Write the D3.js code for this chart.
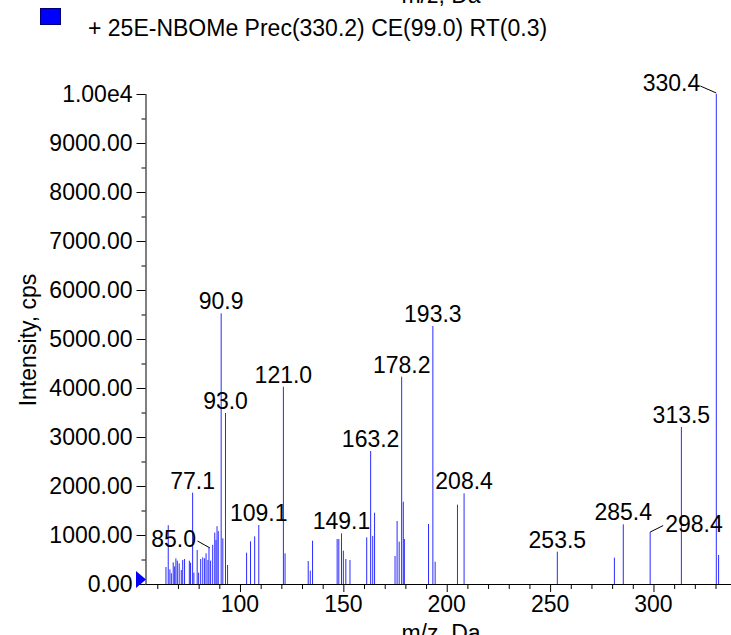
<!DOCTYPE html>
<html>
<head>
<meta charset="utf-8">
<script src="https://cdn.jsdelivr.net/npm/d3@7"></script>
<style>
  html, body { margin: 0; padding: 0; background: #fff; }
  svg { display: block; }
  text { font-family: "Liberation Sans", Arial, sans-serif; fill: #000; }
</style>
</head>
<body>
<svg id="chart" width="731" height="635"></svg>
<script>
// ---- data ----
const legendLabel = "+ 25E-NBOMe Prec(330.2) CE(99.0) RT(0.3)";
const xTitle = "m/z, Da";
const yTitle = "Intensity, cps";

const mz = [64.2, 65.3, 66.1, 66.8, 67.7, 68.4, 69.0, 69.7, 70.6, 71.6,
            72.3, 73.2, 75.5, 76.1, 77.1, 77.7, 79.3, 80.0, 81.0, 82.0,
            82.9, 83.6, 84.5, 85.0, 85.8, 86.8, 87.8, 88.4, 88.9, 89.5,
            90.9, 91.7, 93.0, 94.0, 103.2, 105.1, 107.1, 109.1, 121.0, 121.8,
            133.0, 134.0, 135.1, 147.0, 147.8, 149.1, 150.0, 151.2, 153.2, 161.3,
            163.2, 164.2, 165.1, 175.0, 176.0, 177.0, 178.2, 179.0, 179.5, 191.2,
            193.3, 194.4, 205.2, 208.4, 253.5, 281.1, 285.4, 298.4, 313.5, 330.4,
            331.5];
const intensity = [347, 1200, 299, 220, 442, 360, 524, 476, 420, 286,
                   490, 510, 476, 435, 1864, 231, 694, 231, 510, 544,
                   524, 626, 490, 735, 476, 800, 1050, 900, 1180, 1080,
                   5524, 932, 3490, 388, 639, 871, 973, 1204, 4027, 626,
                   469, 272, 884, 918, 918, 1034, 680, 510, 490, 952,
                   2714, 980, 1455, 571, 1286, 864, 4231, 1680, 918, 1224,
                   5265, 455, 1619, 1850, 660, 537, 1218, 1060, 3204, 10000,
                   592];

const labeledPeaks = [330.4, 90.9, 193.3, 178.2, 121.0, 93.0, 313.5, 163.2,
                      77.1, 208.4, 109.1, 285.4, 149.1, 298.4, 85.0, 253.5];

const xTickValues = [100, 150, 200, 250, 300];
const yTickValues = [0, 1000, 2000, 3000, 4000, 5000, 6000, 7000, 8000, 9000, 10000];
const yTickLabels = ["0.00", "1000.00", "2000.00", "3000.00", "4000.00", "5000.00",
                     "6000.00", "7000.00", "8000.00", "9000.00", "1.00e4"];

// ---- layout ----
const svg = d3.select("#chart");
const FS = 23;
const x = d3.scaleLinear().domain([54.3, 337.5]).range([145.5, 731]);
const y = d3.scaleLinear().domain([0, 10000]).range([584, 94]);

const peaks = mz.map((m, i) => ({ mz: m, v: intensity[i] }));

// bars
svg.append("g").selectAll("line").data(peaks).join("line")
  .attr("x1", d => x(d.mz)).attr("x2", d => x(d.mz))
  .attr("y1", y(0)).attr("y2", d => y(d.v))
  .attr("stroke", "#2b2bff").attr("stroke-width", 1);

// x axis
const xAxisG = svg.append("g").attr("transform", `translate(0,${y(0)})`);
xAxisG.call(d3.axisBottom(x).tickValues(d3.range(60, 337, 10)).tickSize(5).tickFormat(""))
  .call(g => g.select(".domain").remove());
xAxisG.selectAll(".tick line").filter(d => xTickValues.includes(d)).attr("y2", 8);
xAxisG.selectAll(".tick line").attr("stroke", "#000");
xAxisG.append("line").attr("x1", x.range()[0]).attr("x2", 731).attr("y1", 0.5).attr("y2", 0.5)
  .attr("stroke", "#000").attr("stroke-width", 1);
xAxisG.selectAll(".lbl").data(xTickValues).join("text").attr("class", "lbl")
  .attr("x", d => x(d)).attr("y", 28).attr("text-anchor", "middle")
  .style("font-size", FS + "px").text(d => d);

// y axis
const yAxisG = svg.append("g").attr("transform", `translate(${x.range()[0]},0)`);
yAxisG.call(d3.axisLeft(y).tickValues(d3.range(0, 10001, 500)).tickSize(4).tickFormat(""))
  .call(g => g.select(".domain").remove());
yAxisG.selectAll(".tick line").filter(d => d % 1000 === 0).attr("x2", -9);
yAxisG.selectAll(".tick line").attr("stroke", "#000");
yAxisG.append("line").attr("x1", 0.5).attr("x2", 0.5).attr("y1", y(10000)).attr("y2", y(0))
  .attr("stroke", "#000");
yAxisG.selectAll(".lbl").data(yTickValues).join("text").attr("class", "lbl")
  .attr("x", -13).attr("y", d => y(d) + 8).attr("text-anchor", "end")
  .style("font-size", FS + "px").text((d, i) => yTickLabels[i]);

// blue origin marker
svg.append("path")
  .attr("d", `M136,571 L136,588 L146,579.5 Z`)
  .attr("fill", "#0000ff");

// peak labels
const special = {
  "330.4": { dx: -16, dy: -3, anchor: "end", lead: [-16, -8, 0, -1] },
  "85.0":  { dx: -13, dy: -1, anchor: "end", lead: [-11.5, -7, 1, 0] },
  "298.4": { dx: 15, dy: 0, anchor: "start", lead: [0, 0, 13, -6.5] }
};
labeledPeaks.forEach(p => {
  const pk = peaks.find(d => d.mz === p);
  const bx = x(pk.mz), by = y(pk.v);
  const key = p.toFixed(1);
  const s = special[key];
  if (s) {
    svg.append("text").attr("x", bx + s.dx).attr("y", by + s.dy)
      .attr("text-anchor", s.anchor).style("font-size", FS + "px").text(key);
    svg.append("line")
      .attr("x1", bx + s.lead[0]).attr("y1", by + s.lead[1])
      .attr("x2", bx + s.lead[2]).attr("y2", by + s.lead[3])
      .attr("stroke", "#000").attr("stroke-width", 1);
  } else {
    svg.append("text").attr("x", bx).attr("y", by - 4)
      .attr("text-anchor", "middle").style("font-size", FS + "px").text(key);
  }
});

// titles (partly outside the captured frame, as in the reference)
svg.append("text").attr("x", 441).attr("y", 641).attr("text-anchor", "middle")
  .style("font-size", FS + "px").text(xTitle);
svg.append("text").attr("x", 441).attr("y", 3).attr("text-anchor", "middle")
  .style("font-size", FS + "px").text(xTitle);
svg.append("text").attr("transform", `translate(36,340) rotate(-90)`)
  .attr("text-anchor", "middle").style("font-size", FS + "px").text(yTitle);

// legend
svg.append("rect").attr("x", 40.5).attr("y", 8.5).attr("width", 20).attr("height", 16)
  .attr("fill", "#0000ff").attr("stroke", "#00007a").attr("stroke-width", 1);
svg.append("text").attr("x", 88).attr("y", 36).style("font-size", FS + "px").text(legendLabel);
</script>
</body>
</html>
